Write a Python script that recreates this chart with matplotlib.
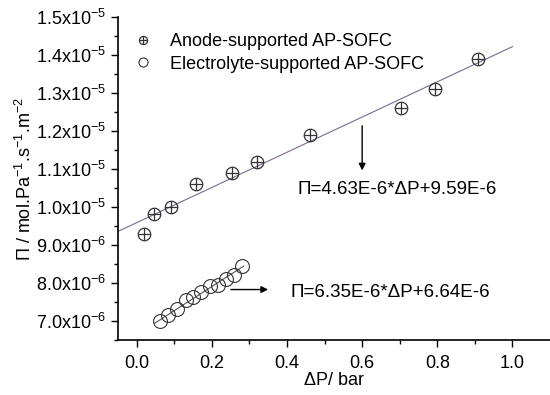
import matplotlib
matplotlib.use("Agg")
import matplotlib.pyplot as plt
from matplotlib.ticker import MultipleLocator, FixedLocator
from matplotlib.legend_handler import HandlerTuple
import numpy as np

plt.rcParams['font.family'] = ['Liberation Sans', 'DejaVu Sans']
plt.rcParams['mathtext.fontset'] = 'custom'
plt.rcParams['mathtext.rm'] = 'Liberation Sans'
plt.rcParams['mathtext.it'] = 'Liberation Sans:italic'
plt.rcParams['mathtext.bf'] = 'Liberation Sans:bold'

# anode-supported cell
dp_anode = [0.019, 0.047, 0.091, 0.157, 0.253, 0.320, 0.461, 0.703, 0.795, 0.909]
pi_anode = [9.29e-6, 9.81e-6, 1.000e-5, 1.061e-5, 1.090e-5, 1.119e-5, 1.189e-5, 1.260e-5, 1.311e-5, 1.389e-5]
# electrolyte-supported cell
dp_elec = [0.063, 0.083, 0.107, 0.130, 0.150, 0.172, 0.195, 0.217, 0.237, 0.259, 0.279]
pi_elec = [7.00e-6, 7.16e-6, 7.33e-6, 7.55e-6, 7.64e-6, 7.77e-6, 7.92e-6, 7.95e-6, 8.12e-6, 8.21e-6, 8.45e-6]

# linear fits (slope, intercept) and drawn ranges
fit_anode = (4.63e-6, 9.59e-6)
fit_anode_x = [-0.05, 1.0]
fit_elec = (6.35e-6, 6.64e-6)
fit_elec_x = [0.048, 0.285]

yticks = [7.0e-6, 8.0e-6, 9.0e-6, 1.0e-5, 1.1e-5, 1.2e-5, 1.3e-5, 1.4e-5, 1.5e-5]
ytick_labels = [r'7.0x10$^{-6}$', r'8.0x10$^{-6}$', r'9.0x10$^{-6}$', r'1.0x10$^{-5}$',
                r'1.1x10$^{-5}$', r'1.2x10$^{-5}$', r'1.3x10$^{-5}$', r'1.4x10$^{-5}$',
                r'1.5x10$^{-5}$']

fig = plt.figure(figsize=(5.5, 3.95), dpi=100)
ax = fig.add_axes([0.2145, 0.139, 0.7855, 0.818])

xa = np.array(fit_anode_x)
ax.plot(xa, fit_anode[0] * xa + fit_anode[1], color='#7a6a8a', lw=0.8)
xe = np.array(fit_elec_x)
ax.plot(xe, fit_elec[0] * xe + fit_elec[1], color='#555555', lw=0.8)

c1, = ax.plot(dp_anode, pi_anode, ls='none', marker='o', ms=9, mfc='none', mec='#333333', mew=0.9)
p1, = ax.plot(dp_anode, pi_anode, ls='none', marker='+', ms=9, mec='#333333', mew=0.9)
c2, = ax.plot(dp_elec, pi_elec, ls='none', marker='o', ms=10, mfc='none', mec='#333333', mew=0.8)

leg = ax.legend([(c1, p1), c2], ['Anode-supported AP-SOFC', 'Electrolyte-supported AP-SOFC'],
                handler_map={tuple: HandlerTuple(ndivide=1, pad=0)},
                loc='upper left', bbox_to_anchor=(0.0, 1.0), frameon=False, fontsize=13,
                handlelength=1.0, handletextpad=1.0, labelspacing=0.3, markerscale=0.65)

ax.annotate('', xy=(0.6, 1.089e-5), xytext=(0.6, 1.221e-5),
            arrowprops=dict(arrowstyle='-|>', color='black', lw=1, mutation_scale=10))
ax.text(0.427, 1.045e-5, 'Π=4.63E-6*ΔP+9.59E-6', fontsize=13.5, va='center', ha='left')
ax.annotate('', xy=(0.357, 7.83e-6), xytext=(0.243, 7.83e-6),
            arrowprops=dict(arrowstyle='-|>', color='black', lw=1, mutation_scale=10))
ax.text(0.408, 7.76e-6, 'Π=6.35E-6*ΔP+6.64E-6', fontsize=13.5, va='center', ha='left')

ax.set_xlim(-0.05, 1.10)
ax.set_ylim(6.5e-6, 1.5e-5)
ax.xaxis.set_major_locator(FixedLocator([0.0, 0.2, 0.4, 0.6, 0.8, 1.0]))
ax.xaxis.set_minor_locator(FixedLocator([0.1, 0.3, 0.5, 0.7, 0.9]))
ax.set_xticklabels(['0.0', '0.2', '0.4', '0.6', '0.8', '1.0'])
ax.set_yticks(yticks)
ax.set_yticklabels(ytick_labels)
ax.yaxis.set_minor_locator(MultipleLocator(0.5e-6))
ax.tick_params(axis='both', which='major', direction='out', length=5, width=1, labelsize=13)
ax.tick_params(axis='x', which='major', pad=6)
ax.tick_params(axis='both', which='minor', direction='out', length=3, width=1)

ax.spines['top'].set_visible(False)
ax.spines['right'].set_visible(False)
ax.spines['left'].set_linewidth(1.2)
ax.spines['bottom'].set_linewidth(1.2)

ax.set_xlabel('ΔP/ bar', fontsize=13, labelpad=0)
ax.set_ylabel(r'Π / mol.Pa$^{-1}$.s$^{-1}$.m$^{-2}$', fontsize=13, labelpad=1)

fig.savefig('out.png', dpi=100)
